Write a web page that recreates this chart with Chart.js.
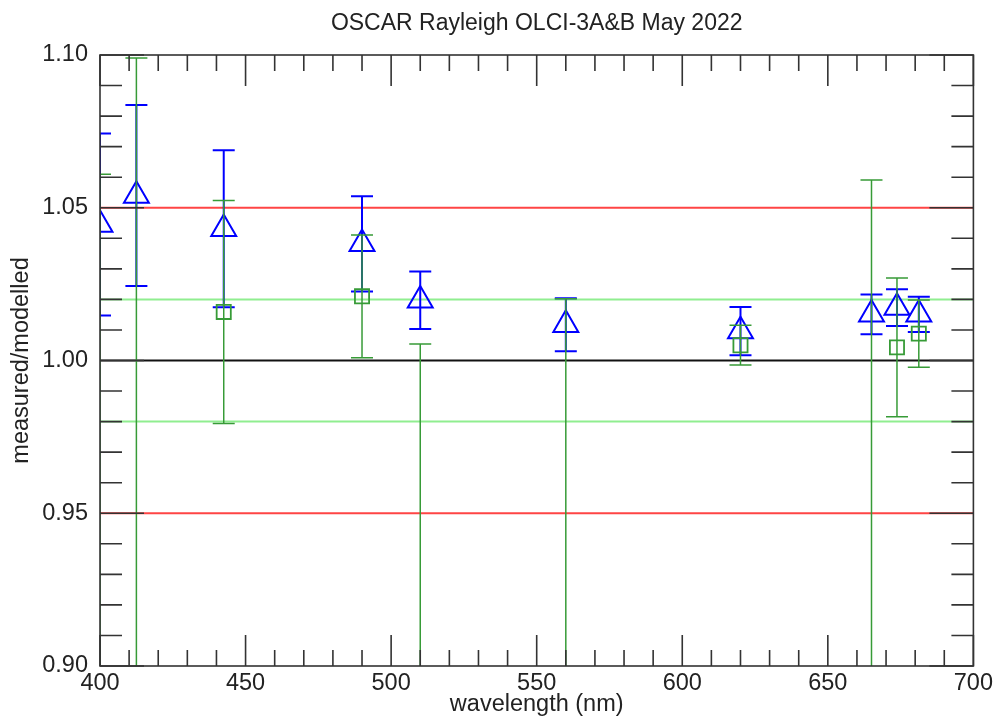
<!DOCTYPE html>
<html>
<head>
<meta charset="utf-8">
<title>OSCAR Rayleigh OLCI-3A&amp;B May 2022</title>
<script src="https://cdn.jsdelivr.net/npm/chart.js@4.4.1/dist/chart.umd.min.js"></script>
<style>
  html, body { margin: 0; padding: 0; background: #fff; }
</style>
</head>
<body>
<canvas id="chart" width="996" height="718"></canvas>
<script>
// OLCI band centres (nm)
const bands = [400, 412.5, 442.5, 490, 510, 560, 620, 665, 673.75, 681.25];

// OLCI-3A : blue triangles, symmetric error
const ratioA = [1.0445, 1.0540, 1.0431, 1.0382, 1.0197, 1.0117, 1.0096, 1.0151, 1.0173, 1.0151];
const errA = [0.0298, 0.0296, 0.0257, 0.0156, 0.0094, 0.0087, 0.0079, 0.0065, 0.0060, 0.0058];

// OLCI-3B : green squares (a few centres sit below 0.90, only the upper bar shows)
const ratioB = [0.850, 0.870, 1.0159, 1.0210, 0.860, 0.880, 1.0050, 0.870, 1.0043, 1.0088];
const errB = [0.211, 0.229, 0.0365, 0.0201, 0.1454, 0.1402, 0.0065, 0.1891, 0.0227, 0.0110];

// reference levels
const refLevels = [1.05, 0.95, 1.02, 0.98, 1.00];
const refColors = ["#ff4545", "#ff4545", "#90ee90", "#90ee90", "#111111"];

Chart.defaults.font.family = '"Liberation Sans", Arial, sans-serif';
Chart.defaults.color = "#222";

// error bars, drawn before each dataset's markers
const errorBars = {
  id: "errorBars",
  beforeDatasetDraw(chart, args) {
    const ds = chart.data.datasets[args.index];
    if (!ds.errors) return;
    const { ctx, chartArea: a, scales: { x, y } } = chart;
    ctx.save();
    ctx.beginPath();
    ctx.rect(a.left, a.top, a.width, a.height);
    ctx.clip();
    ctx.strokeStyle = ds.borderColor;
    ctx.lineWidth = ds.errorWidth;
    ds.data.forEach((p, i) => {
      const px = x.getPixelForValue(p.x);
      const top = y.getPixelForValue(p.y + ds.errors[i]);
      const bot = y.getPixelForValue(p.y - ds.errors[i]);
      ctx.beginPath();
      ctx.moveTo(px, top); ctx.lineTo(px, bot);
      ctx.moveTo(px - 11, top); ctx.lineTo(px + 11, top);
      ctx.moveTo(px - 11, bot); ctx.lineTo(px + 11, bot);
      ctx.stroke();
    });
    ctx.restore();
  }
};

// box frame with inward ticks on all four sides
const frameTicks = {
  id: "frameTicks",
  afterDatasetsDraw(chart) {
    const { ctx, chartArea: a, scales: { x, y } } = chart;
    ctx.save();
    ctx.strokeStyle = "#333";
    ctx.lineWidth = 1.6;
    ctx.beginPath();
    for (let w = 400; w <= 700; w += 10) {
      const px = x.getPixelForValue(w);
      const len = w % 50 === 0 ? 31 : 16;
      ctx.moveTo(px, a.bottom); ctx.lineTo(px, a.bottom - len);
      ctx.moveTo(px, a.top); ctx.lineTo(px, a.top + len);
    }
    for (let k = 90; k <= 110; k++) {
      const py = y.getPixelForValue(k / 100);
      const len = k % 5 === 0 ? 44 : 22;
      ctx.moveTo(a.left, py); ctx.lineTo(a.left + len, py);
      ctx.moveTo(a.right, py); ctx.lineTo(a.right - len, py);
    }
    ctx.stroke();
    ctx.strokeRect(a.left, a.top, a.width, a.height);
    ctx.restore();
  }
};

const refSets = refLevels.map((lvl, i) => ({
  type: "line",
  data: [{ x: 400, y: lvl }, { x: 700, y: lvl }],
  borderColor: refColors[i],
  borderWidth: 2,
  pointRadius: 0,
  order: 10,
}));

new Chart(document.getElementById("chart"), {
  type: "scatter",
  data: {
    datasets: [
      ...refSets,
      {
        label: "OLCI-3A",
        data: bands.map((b, i) => ({ x: b, y: ratioA[i] })),
        errors: errA,
        errorWidth: 2,
        pointStyle: "triangle",
        pointRadius: 14.4,
        borderColor: "#0000ff",
        backgroundColor: "rgba(0,0,0,0)",
        borderWidth: 2,
        clip: 0,
        order: 2,
      },
      {
        label: "OLCI-3B",
        data: bands.map((b, i) => ({ x: b, y: ratioB[i] })),
        errors: errB,
        errorWidth: 1.5,
        pointStyle: "rect",
        pointRadius: 10,
        borderColor: "rgb(55,155,55)",
        backgroundColor: "rgba(0,0,0,0)",
        borderWidth: 1.8,
        clip: 0,
        order: 1,
      },
    ],
  },
  options: {
    responsive: false,
    animation: false,
    events: [],
    layout: { padding: { left: 0, right: 17, top: 0, bottom: 0 } },
    plugins: {
      legend: { display: false },
      tooltip: { enabled: false },
      title: {
        display: true,
        fullSize: false,
        text: "OSCAR Rayleigh OLCI-3A&B May 2022",
        font: { size: 23, weight: "normal" },
        color: "#222",
        padding: { top: 10, bottom: 17.4 },
      },
    },
    scales: {
      x: {
        type: "linear",
        min: 400,
        max: 700,
        grid: { display: false, drawTicks: false },
        border: { display: false },
        ticks: { stepSize: 50, font: { size: 23.5 }, padding: 3, maxRotation: 0 },
        title: {
          display: true,
          text: "wavelength (nm)",
          font: { size: 23.5 },
          padding: { top: 0, bottom: -1 },
        },
        afterFit: (scale) => { scale.height = 52; },
      },
      y: {
        min: 0.9,
        max: 1.1,
        grid: { display: false, drawTicks: false },
        border: { display: false },
        ticks: {
          stepSize: 0.05,
          font: { size: 23.5 },
          padding: 12,
          callback: (v) => v.toFixed(2),
        },
        title: {
          display: true,
          text: "measured/modelled",
          font: { size: 23.5 },
          padding: { top: 7, bottom: 0 },
        },
        afterFit: (scale) => { scale.width = 100; },
      },
    },
  },
  plugins: [errorBars, frameTicks],
});
</script>
</body>
</html>
